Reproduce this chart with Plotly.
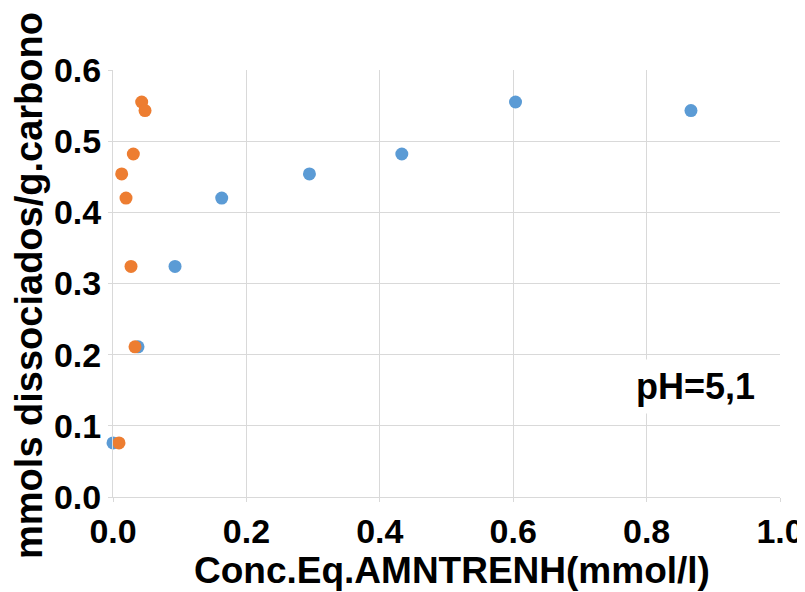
import plotly.graph_objects as go

# Data
blue_x = [0.0, 0.0375, 0.093, 0.163, 0.2945, 0.433, 0.6035, 0.8665]
blue_y = [0.076, 0.211, 0.324, 0.420, 0.454, 0.482, 0.555, 0.543]
orange_x = [0.009, 0.033, 0.027, 0.0195, 0.013, 0.0305, 0.043, 0.048]
orange_y = [0.076, 0.211, 0.324, 0.420, 0.454, 0.482, 0.555, 0.543]

x_title = "Conc.Eq.AMNTRENH(mmol/l)"
y_title = "mmols dissociados/g.carbono"
note = "pH=5,1"

FONT = "Liberation Sans, Arial, sans-serif"
GRID = "#d9d9d9"

fig = go.Figure()
fig.add_trace(go.Scatter(x=blue_x, y=blue_y, mode="markers", cliponaxis=False,
                         marker=dict(size=13, color="#5B9BD5"), showlegend=False))
fig.add_trace(go.Scatter(x=orange_x, y=orange_y, mode="markers", cliponaxis=False,
                         marker=dict(size=13, color="#ED7D31"), showlegend=False))

axis_common = dict(
    showgrid=True, gridcolor=GRID, gridwidth=1,
    showline=True, linecolor=GRID, linewidth=1, mirror=False,
    ticks="outside", ticklen=4, tickcolor=GRID,
    zeroline=False, tickformat=".1f", automargin=False,
    tickfont=dict(family=FONT, size=34, color="#000000", weight="bold"),
)

fig.update_xaxes(range=[0, 1.0], dtick=0.2, **axis_common)
fig.update_yaxes(range=[0, 0.6], dtick=0.1, **axis_common)

# page body has an 8px default margin, so the figure is 8px smaller
fig.update_layout(
    width=797, height=584,
    margin=dict(l=105, r=25, t=62, b=95),
    plot_bgcolor="white", paper_bgcolor="white",
    annotations=[
        dict(text=x_title, xref="paper", yref="paper", x=0.508, y=-0.171,
             xanchor="center", yanchor="middle", showarrow=False,
             font=dict(family=FONT, size=37, color="#000000", weight="bold")),
        dict(text=y_title, xref="paper", yref="paper", x=-0.126, y=0.4965,
             xanchor="center", yanchor="middle", textangle=-90, showarrow=False,
             font=dict(family=FONT, size=38, color="#000000", weight="bold")),
        dict(text=note, xref="paper", yref="paper", x=0.874, y=0.259,
             xanchor="center", yanchor="middle", showarrow=False,
             bgcolor="white", borderpad=6,
             font=dict(family=FONT, size=36, color="#000000", weight="bold")),
    ],
)

fig.write_html("out.html")
